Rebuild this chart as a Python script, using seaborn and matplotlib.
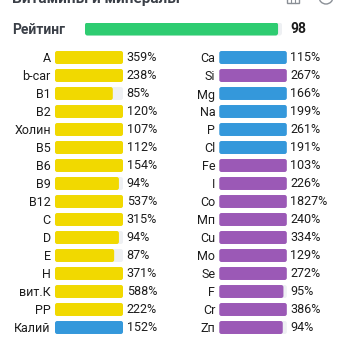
import matplotlib
matplotlib.use("Agg")
import matplotlib.pyplot as plt
import seaborn as sns
import pandas as pd
import numpy as np
from matplotlib.patches import FancyBboxPatch, Circle, Rectangle

# ---------------- data ----------------
title = "Витамины и минералы"
rating_label = "Рейтинг"
rating_value = 98

left_names = ["A", "b-car", "B1", "B2", "Холин", "B5", "B6", "B9",
              "B12", "C", "D", "E", "H", "вит.К", "PP", "Калий"]
left_values = [359, 238, 85, 120, 107, 112, 154, 94,
               537, 315, 94, 87, 371, 588, 222, 152]
left_groups = ["vit"] * 15 + ["macro"]

right_names = ["Ca", "Si", "Mg", "Na", "P", "Cl", "Fe", "I",
               "Co", "Mn", "Cu", "Mo", "Se", "F", "Cr", "Zn"]
right_labels = ["Ca", "Si", "Mg", "Na", "P", "Cl", "Fe", "I",
                "Co", "Mп", "Cu", "Mo", "Se", "F", "Cr", "Zп"]
right_values = [115, 267, 166, 199, 261, 191, 103, 226,
                1827, 240, 334, 129, 272, 95, 386, 94]
right_groups = ["macro", "micro", "macro", "macro", "macro", "macro", "micro", "micro",
                "micro", "micro", "micro", "micro", "micro", "micro", "micro", "micro"]

palette = {"vit": "#f1d900", "macro": "#3498db", "micro": "#9b59b6", "rating": "#2ecc71"}
track_color = "#eef0f3"
text_color = "#1c1c1c"
head_color = "#3a3f47"

plt.rcParams["font.family"] = ["Roboto", "DejaVu Sans"]

W, H = 344, 346
fig = plt.figure(figsize=(W / 100, H / 100), dpi=100)
fig.patch.set_facecolor("white")


def px_axes(x0, y0, x1, y1):
    return fig.add_axes([x0 / W, 1 - y1 / H, (x1 - x0) / W, (y1 - y0) / H])


def round_patches(ax, radius_px=2.2):
    fig.canvas.draw()
    bbox = ax.get_window_extent()
    x0, x1 = ax.get_xlim()
    y0, y1 = ax.get_ylim()
    ux = abs(x1 - x0) / bbox.width
    uy = abs(y1 - y0) / bbox.height
    for p in list(ax.patches):
        if not isinstance(p, Rectangle):
            continue
        x, y = p.get_x(), p.get_y()
        w, h = p.get_width(), p.get_height()
        if w <= 0:
            p.remove()
            continue
        fb = FancyBboxPatch((x, y), w, h,
                            boxstyle=f"round,pad=0,rounding_size={radius_px * ux}",
                            mutation_aspect=uy / ux,
                            facecolor=p.get_facecolor(), edgecolor="none",
                            zorder=p.get_zorder())
        p.remove()
        ax.add_patch(fb)


def column(ax, names, labels, values, groups):
    df = pd.DataFrame({"name": names, "value": values, "group": groups})
    df["shown"] = df["value"].clip(upper=100)
    df["track"] = 100
    sns.barplot(data=df, y="name", x="track", color=track_color, width=0.72,
                ax=ax, orient="h", saturation=1, zorder=1)
    sns.barplot(data=df, y="name", x="shown", hue="group", palette=palette,
                width=0.72, ax=ax, orient="h", saturation=1, legend=False,
                dodge=False, zorder=2)
    ax.set_xlim(0, 100)
    ax.set_ylim(len(names) - 0.5, -0.5)
    ax.set_xlabel("")
    ax.set_ylabel("")
    ax.set_xticks([])
    ax.set_yticks(range(len(names)))
    ax.set_yticklabels(labels, fontsize=9, color=text_color)
    ax.tick_params(axis="y", length=0, pad=3)
    for s in ax.spines.values():
        s.set_visible(False)
    ax.set_facecolor("none")
    for i, v in enumerate(values):
        ax.annotate(f"{v}%", xy=(100, i), xytext=(2.6, 0), textcoords="offset points",
                    ha="left", va="center", fontsize=9, color=text_color)
    round_patches(ax)


axL = px_axes(55, 48.5, 123, 336.5)
column(axL, left_names, left_names, left_values, left_groups)
axR = px_axes(219.3, 48.5, 286.8, 336.5)
column(axR, right_names, right_labels, right_values, right_groups)

# rating bar
axG = px_axes(85, 22.5, 282, 35.5)
rdf = pd.DataFrame({"name": [rating_label], "value": [rating_value], "track": [100]})
sns.barplot(data=rdf, y="name", x="track", color=track_color, width=1.0, ax=axG,
            orient="h", saturation=1)
sns.barplot(data=rdf, y="name", x="value", color=palette["rating"], width=1.0, ax=axG,
            orient="h", saturation=1)
axG.set_xlim(0, 100)
axG.set_ylim(0.5, -0.5)
axG.axis("off")
round_patches(axG, 2.5)
axG.annotate(f"{rating_value}", xy=(100, 0), xytext=(6, 0), textcoords="offset points",
             ha="left", va="center", fontsize=10, fontweight="bold", color=text_color)
fig.text(12 / W, 1 - 29.5 / H, rating_label, ha="left", va="center", fontsize=10,
         fontweight="bold", color=head_color)

# title (partly cut off at the top)
fig.text(12 / W, 1 - 3 / H, title, ha="left", va="baseline", fontsize=11,
         fontweight="bold", color=head_color)

# header icons (partly cut off)
axI = fig.add_axes([0, 0, 1, 1], facecolor="none")
axI.set_xlim(0, W)
axI.set_ylim(H, 0)
axI.axis("off")
axI.add_patch(Rectangle((287, -6), 12, 9, fill=False, edgecolor="#8a8f96", lw=1))
axI.plot([291, 291], [-6, 3], color="#8a8f96", lw=0.8)
axI.plot([295, 295], [-6, 3], color="#8a8f96", lw=0.8)
axI.add_patch(Circle((326, -3), 7, fill=False, edgecolor="#8a8f96", lw=1))

fig.savefig("out.png", dpi=100, facecolor="white")
